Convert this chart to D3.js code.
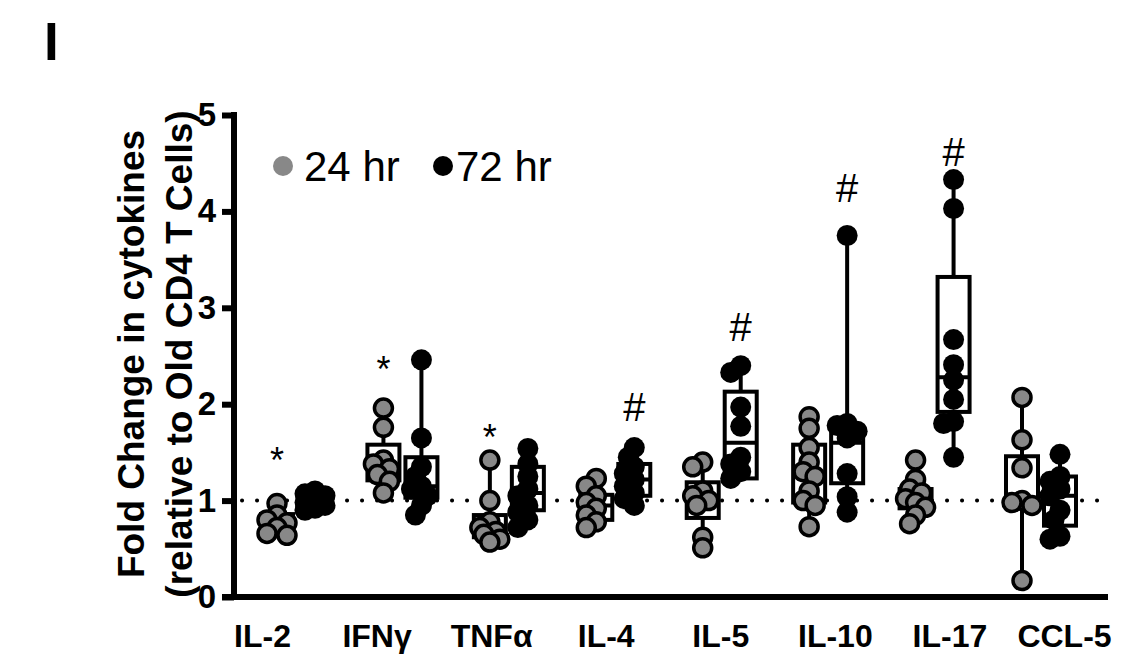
<!DOCTYPE html>
<html>
<head>
<meta charset="utf-8">
<script src="https://cdn.jsdelivr.net/npm/d3@7"></script>
<style>
  html, body { margin: 0; padding: 0; background: #fff; }
  svg { display: block; }
  text { font-family: "Liberation Sans", Arial, Helvetica, sans-serif; }
</style>
</head>
<body>
<svg id="chart" width="1134" height="662"></svg>
<script>
// ---------------- DATA ----------------
const categories = ["IL-2", "IFNγ", "TNFα", "IL-4", "IL-5", "IL-10", "IL-17", "CCL-5"];
const seriesNames = ["24 hr", "72 hr"];
const yTicks = [0, 1, 2, 3, 4, 5];

// individual fold-change values, 24 hr
const values24 = [
  [0.97, 0.85, 0.80, 0.77, 0.72, 0.66, 0.64],
  [1.96, 1.76, 1.42, 1.38, 1.33, 1.27, 1.20, 1.08],
  [1.42, 1.00, 0.78, 0.72, 0.68, 0.65, 0.60, 0.57],
  [1.23, 1.15, 1.05, 0.98, 0.92, 0.85, 0.78, 0.72],
  [1.40, 1.35, 1.10, 1.05, 1.00, 0.95, 0.62, 0.51],
  [1.87, 1.75, 1.55, 1.40, 1.30, 1.25, 1.10, 1.00, 0.95, 0.73],
  [1.42, 1.22, 1.12, 1.08, 1.02, 0.98, 0.93, 0.85, 0.76],
  [2.07, 1.63, 1.34, 1.00, 0.98, 0.95, 0.17]
];
// individual fold-change values, 72 hr
const values72 = [
  [1.10, 1.07, 1.05, 1.02, 0.98, 0.95, 0.92, 0.90],
  [2.46, 1.65, 1.35, 1.25, 1.15, 1.12, 1.05, 0.95, 0.85],
  [1.54, 1.38, 1.25, 1.12, 1.05, 0.95, 0.88, 0.80, 0.72],
  [1.55, 1.45, 1.35, 1.28, 1.22, 1.15, 1.08, 1.02, 0.95],
  [2.40, 2.33, 1.97, 1.77, 1.45, 1.38, 1.30, 1.23],
  [3.75, 1.80, 1.78, 1.72, 1.65, 1.28, 1.04, 0.88],
  [4.33, 4.03, 2.67, 2.41, 2.25, 2.05, 1.82, 1.80, 1.45],
  [1.48, 1.25, 1.20, 1.12, 1.05, 0.90, 0.80, 0.63, 0.60]
];
// box & whisker stats: [min, q1, median, q3, max]
const box24 = [
  [0.64, 0.68, 0.78, 0.86, 0.97],
  [1.08, 1.21, 1.37, 1.58, 1.96],
  [0.57, 0.62, 0.70, 0.85, 1.42],
  [0.72, 0.80, 0.95, 1.06, 1.23],
  [0.51, 0.82, 1.02, 1.19, 1.40],
  [0.73, 0.98, 1.27, 1.58, 1.87],
  [0.76, 0.92, 1.02, 1.12, 1.42],
  [0.17, 0.95, 0.99, 1.46, 2.07]
];
const box72 = [
  [0.90, 0.93, 1.00, 1.07, 1.10],
  [0.85, 1.03, 1.15, 1.45, 2.46],
  [0.72, 0.90, 1.08, 1.35, 1.54],
  [0.95, 1.05, 1.22, 1.38, 1.55],
  [1.23, 1.23, 1.60, 2.13, 2.40],
  [0.88, 1.18, 1.60, 1.70, 3.75],
  [1.45, 1.92, 2.28, 3.32, 4.33],
  [0.60, 0.74, 1.05, 1.25, 1.48]
];
// significance marks
const markCategory = ["IL-2", "IFNγ", "TNFα", "IL-4", "IL-5", "IL-10", "IL-17"];
const markSeries   = [0, 0, 0, 1, 1, 1, 1];
const markSymbol   = ["*", "*", "*", "#", "#", "#", "#"];
const markLevel    = [1.49, 2.43, 1.73, 1.97, 2.80, 4.24, 4.62];
const referenceLevel = 1;

// ---------------- CHART ----------------
const svg = d3.select("#chart");

const y = d3.scaleLinear().domain([0, 5]).range([597, 115]);
const xGroup = d3.scaleLinear().domain([0, categories.length - 1]).range([277, 1022]);
const seriesOffset = d3.scaleOrdinal().domain([0, 1]).range([0, 38]);
const xLabel = d3.scalePoint().domain(categories).range([262, 1064]);

const colors = ["#888888", "#000000"];
const axisX = 234;

// panel letter
svg.append("text").attr("x", 44).attr("y", 60)
  .attr("font-size", 53).attr("font-weight", "bold").text("I");

// y-axis title
[["Fold Change in cytokines", 131], ["(relative to Old CD4 T Cells)", 179]].forEach(([t, cx]) => {
  svg.append("text")
    .attr("transform", `translate(${cx},${354}) rotate(-90)`)
    .attr("text-anchor", "middle")
    .attr("dominant-baseline", "central")
    .attr("font-size", 37).attr("font-weight", "bold").text(t);
});

// y axis
const yAxis = d3.axisLeft(y).tickValues(yTicks).tickFormat(d3.format("d")).tickSize(12).tickPadding(6);
const yg = svg.append("g").attr("transform", `translate(${axisX},0)`).call(yAxis);
yg.select(".domain").attr("stroke-width", 6).attr("d", `M0,${y(5) - 3}V${y(0)}`);
yg.selectAll(".tick line").attr("stroke-width", 6);
yg.selectAll(".tick text").attr("font-size", 33).attr("font-weight", "bold")
  .attr("font-family", '"Liberation Sans", Arial, sans-serif').attr("fill", "#000");

// x axis line
svg.append("line").attr("x1", axisX - 12).attr("x2", 1108).attr("y1", y(0)).attr("y2", y(0))
  .attr("stroke", "#000").attr("stroke-width", 6);

// x labels
const xAxis = d3.axisBottom(xLabel).tickSize(0).tickPadding(0);
const xg = svg.append("g").attr("transform", `translate(0,${y(0) + 27})`).call(xAxis);
xg.select(".domain").remove();
xg.selectAll(".tick text").attr("font-size", 32).attr("font-weight", "bold")
  .attr("font-family", '"Liberation Sans", Arial, sans-serif').attr("fill", "#000");

// dotted reference line
svg.append("line").attr("x1", axisX + 8).attr("x2", 1108)
  .attr("y1", y(referenceLevel)).attr("y2", y(referenceLevel))
  .attr("stroke", "#000").attr("stroke-width", 4)
  .attr("stroke-linecap", "round").attr("stroke-dasharray", "0.1,14.9");

// boxes
const boxW = 32;
const bg = svg.append("g");
[box24, box72].forEach((bs, s) => bs.forEach((b, i) => {
  const cx = xGroup(i) + seriesOffset(s);
  const [mn, q1, md, q3, mx] = b;
  bg.append("line").attr("x1", cx).attr("x2", cx).attr("y1", y(mx)).attr("y2", y(q3))
    .attr("stroke", "#000").attr("stroke-width", 4);
  bg.append("line").attr("x1", cx).attr("x2", cx).attr("y1", y(q1)).attr("y2", y(mn))
    .attr("stroke", "#000").attr("stroke-width", 4);
  bg.append("rect").attr("x", cx - boxW / 2).attr("width", boxW)
    .attr("y", y(q3)).attr("height", Math.max(0.1, y(q1) - y(q3)))
    .attr("fill", "#fff").attr("stroke", "#000").attr("stroke-width", 4);
  bg.append("line").attr("x1", cx - boxW / 2).attr("x2", cx + boxW / 2)
    .attr("y1", y(md)).attr("y2", y(md)).attr("stroke", "#000").attr("stroke-width", 4);
}));

// points with compact dodge layout
function dodge(vals, cx) {
  const placed = [];
  const order = vals.map((v, k) => k).sort((a, b) => vals[b] - vals[a]);
  const offs = [0, -6, 6, -10, 10];
  order.forEach(k => {
    const py = y(vals[k]);
    let best = 0, bestD = -1;
    for (const o of offs) {
      let dmin = Infinity;
      placed.forEach(p => { dmin = Math.min(dmin, Math.hypot(p.x - (cx + o), p.y - py)); });
      if (dmin >= 10) { best = o; bestD = dmin; break; }
      if (dmin > bestD) { bestD = dmin; best = o; }
    }
    placed.push({ x: cx + best, y: py, v: vals[k] });
  });
  return placed;
}
const pg = svg.append("g");
[values24, values72].forEach((series, s) => {
  series.forEach((vals, i) => {
    const pts = dodge(vals, xGroup(i) + seriesOffset(s));
    pg.selectAll(null).data(pts).enter().append("circle")
      .attr("cx", d => d.x).attr("cy", d => d.y)
      .attr("r", s === 0 ? 9 : 10.5)
      .attr("fill", colors[s])
      .attr("stroke", s === 0 ? "#000" : "none")
      .attr("stroke-width", 3.5);
  });
});

// significance marks
markSymbol.forEach((sym, k) => {
  const i = categories.indexOf(markCategory[k]);
  svg.append("text")
    .attr("x", xGroup(i) + seriesOffset(markSeries[k]))
    .attr("y", y(markLevel[k]))
    .attr("text-anchor", "middle").attr("dominant-baseline", "central")
    .attr("font-size", sym === "*" ? 36 : 40)
    .attr("dy", sym === "*" ? 7 : 0)
    .text(sym);
});

// legend
const lg = svg.append("g");
lg.append("circle").attr("cx", 283).attr("cy", 166).attr("r", 10).attr("fill", colors[0]);
lg.append("text").attr("x", 304).attr("y", 181).attr("font-size", 42).text(seriesNames[0]);
lg.append("circle").attr("cx", 443).attr("cy", 166).attr("r", 10).attr("fill", colors[1]);
lg.append("text").attr("x", 456).attr("y", 181).attr("font-size", 42).text(seriesNames[1]);
</script>
</body>
</html>
